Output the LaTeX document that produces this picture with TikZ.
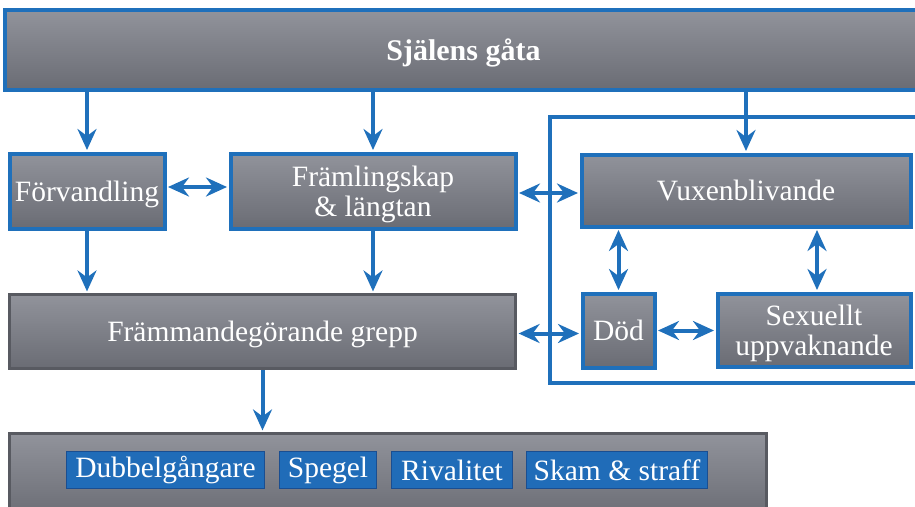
\documentclass[tikz,border=0pt]{standalone}
\usepackage{fontspec}
\setmainfont{Liberation Serif}
\usetikzlibrary{arrows.meta}
\definecolor{bluelink}{RGB}{31,112,187}
\definecolor{paneltop}{RGB}{145,147,155}
\definecolor{panelbot}{RGB}{106,108,116}
\definecolor{edgegrey}{RGB}{88,90,97}
\definecolor{tagblue}{RGB}{32,108,184}
\definecolor{tagedge}{RGB}{26,78,145}
\begin{document}
\begin{tikzpicture}[x=1pt,y=-1pt,
    panel/.style={top color=paneltop,bottom color=panelbot,draw=bluelink,line width=4pt,
      text=white,inner sep=0pt,align=center,text depth=0pt,font=\fontsize{29.5}{30}\selectfont},
    greypanel/.style={panel,draw=edgegrey,line width=3.2pt},
    tag/.style={fill=tagblue,draw=tagedge,line width=1pt,text=white,inner sep=0pt,
      minimum height=37pt,font=\fontsize{29.5}{30}\selectfont},
    tip/.tip={Stealth[length=21pt,width=19pt,inset=7pt]},
    link/.style={draw=bluelink,line width=4pt,-tip,shorten >=1.5pt},
    twoway/.style={link,tip-tip,shorten <=1.5pt}]
\useasboundingbox (0,0) rectangle (915,506);
\node[panel,minimum width=917pt,minimum height=80pt,font=\fontsize{30}{30}\selectfont\bfseries] (soul) at (463.5,50) {Själens gåta};
\node[panel,minimum width=155pt,minimum height=75pt] (forv) at (87,191) {Förvandling};
\node[panel,minimum width=285pt,minimum height=75pt] (frem) at (373,191) {Främlingskap\\ \& längtan};
\node[panel,minimum width=329pt,minimum height=72pt] (vux) at (746,190.5) {Vuxenblivande};
\node[greypanel,minimum width=506pt,minimum height=74pt] (grepp) at (262.5,331.5) {Främmandegörande grepp};
\node[panel,minimum width=72pt,minimum height=74pt] (dod) at (618.5,330.5) {Död};
\node[panel,minimum width=193pt,minimum height=73pt] (sex) at (814,330) {Sexuellt\\ uppvaknande};
\node[greypanel,minimum width=757pt,minimum height=85pt] (tray) at (388,476) {};
\node[tag,minimum width=198pt] (dubbel) at (165.5,470) {Dubbelgångare};
\node[tag,minimum width=97pt] (spegel) at (328,470) {Spegel};
\node[tag,minimum width=121pt] (rival) at (452,470) {Rivalitet};
\node[tag,minimum width=181pt] (skam) at (617,470) {Skam \& straff};
\coordinate (frameNW) at (550,117);
\coordinate (frameSE) at (935,383);
\draw[bluelink,line width=4pt] (frameNW) rectangle (frameSE);
\draw[link] (soul.south -| forv.north) -- (forv.north);
\draw[link] (soul.south -| frem.north) -- (frem.north);
\draw[link] (soul.south -| vux.north) -- (vux.north);
\draw[twoway] ([yshift=4pt]forv.east) -- ([yshift=4pt]forv.east -| frem.west);
\draw[twoway] ([yshift=-2pt]frem.east) -- ([yshift=-2pt]frem.east -| vux.west);
\draw[link] (forv.south) -- (forv.south |- grepp.north);
\draw[link] (frem.south) -- (frem.south |- grepp.north);
\draw[twoway] ([yshift=-2pt]grepp.east) -- ([yshift=-2pt]grepp.east -| dod.west);
\draw[twoway] (vux.south -| dod.north) -- (dod.north);
\draw[twoway] ([xshift=3pt]vux.south -| sex.north) -- ([xshift=3pt]sex.north);
\draw[twoway] (dod.east) -- (dod.east -| sex.west);
\draw[link] (grepp.south) -- (grepp.south |- tray.north);
\end{tikzpicture}
\end{document}
